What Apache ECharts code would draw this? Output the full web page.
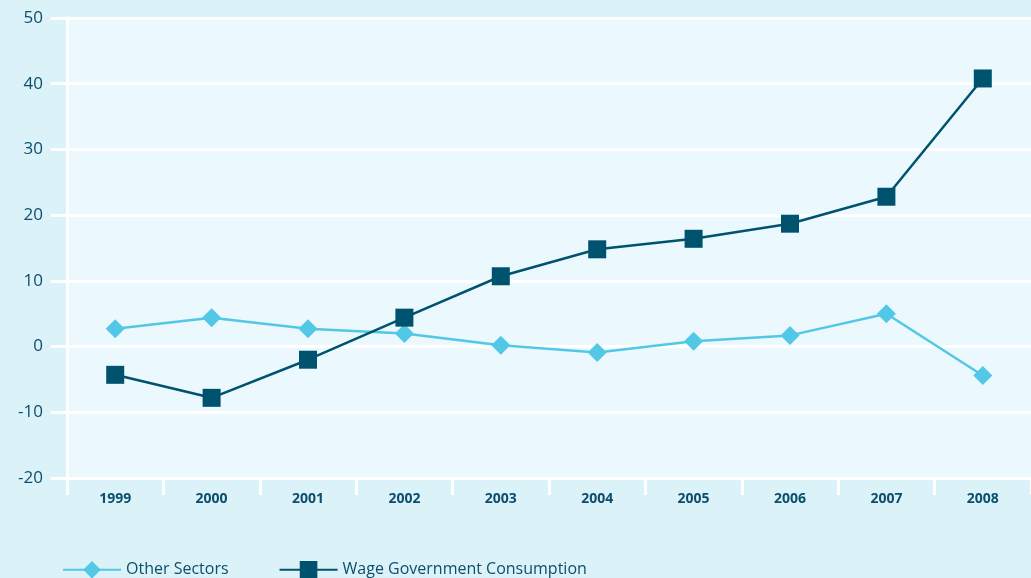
<!DOCTYPE html>
<html><head><meta charset="utf-8">
<script src="https://cdn.jsdelivr.net/npm/echarts@6/dist/echarts.min.js"></script>
<style>html,body{margin:0;padding:0;background:#dcf2f9;}#c{width:1031px;height:578px;}</style>
</head><body><div id="c"></div>
<script>
const categories = ['1999','2000','2001','2002','2003','2004','2005','2006','2007','2008'];
const otherSectors = [2.7, 4.4, 2.7, 2.0, 0.2, -0.9, 0.8, 1.7, 5.0, -4.4];
const wageGov = [-4.3, -7.8, -2.0, 4.4, 10.7, 14.8, 16.4, 18.7, 22.8, 40.8];
const seriesNames = ['Other Sectors', 'Wage Government Consumption'];
const yMin = -20, yMax = 50, yStep = 10;

const txt = '#0b4f6c';
const chart = echarts.init(document.getElementById('c'));
chart.setOption({
  backgroundColor: '#dcf2f9',
  animation: false,
  textStyle: { fontFamily: 'Open Sans' },
  grid: { left: 67, top: 18, width: 967, height: 460, show: true, backgroundColor: '#ebf8fd', borderWidth: 0 },
  legend: {
    left: 57, top: 556, itemWidth: 58, itemHeight: 22, itemGap: 50,
    textStyle: { color: txt, fontSize: 16, fontFamily: 'Open Sans' },
    data: seriesNames
  },
  xAxis: {
    type: 'category', data: categories, boundaryGap: true,
    axisLine: { show: false, onZero: false },
    axisTick: { show: true, length: 17, lineStyle: { color: '#ffffff', width: 3 } },
    axisLabel: { color: txt, fontSize: 14, fontWeight: 'bold', margin: 14 },
    splitLine: { show: false }
  },
  yAxis: {
    type: 'value', min: yMin, max: yMax, interval: yStep,
    axisLine: { show: true, lineStyle: { color: '#ffffff', width: 3 } },
    axisTick: { show: true, length: 16, lineStyle: { color: '#ffffff', width: 3 } },
    axisLabel: { color: txt, fontSize: 17, margin: 24 },
    splitLine: { show: true, lineStyle: { color: '#ffffff', width: 3 } }
  },
  series: [
    { name: seriesNames[0], type: 'line', data: otherSectors, symbol: 'diamond', symbolSize: 19,
      itemStyle: { color: '#52c8e6' }, lineStyle: { color: '#52c8e6', width: 2.5 } },
    { name: seriesNames[1], type: 'line', data: wageGov, symbol: 'rect', symbolSize: 18,
      itemStyle: { color: '#00536f' }, lineStyle: { color: '#00536f', width: 2.5 } }
  ]
});
</script></body></html>
